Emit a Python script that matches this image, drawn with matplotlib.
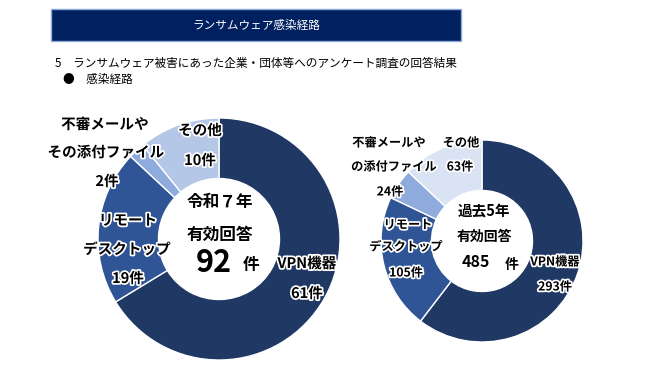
import matplotlib.pyplot as plt
import matplotlib.patches as mpatches
import matplotlib.patheffects as pe

plt.rcParams['font.family'] = ['Noto Sans CJK JP', 'DejaVu Sans']

# データ（感染経路）
categories = ["VPN機器", "リモートデスクトップ", "不審メールやその添付ファイル", "その他"]
r7_counts = [61, 19, 2, 10]
past5_counts = [293, 105, 24, 63]

r7_colors = ["#203864", "#2f5597", "#8faadc", "#b4c7e7"]
past5_colors = ["#203864", "#2f5597", "#8faadc", "#dae3f3"]

W, H = 660, 384
fig = plt.figure(figsize=(W / 100, H / 100), dpi=100)


def px(x, y):
    # 画像のピクセル座標（左上原点）→ figure座標
    return x / W, 1 - y / H


def put(x, y, s, size, bold=True, color="black", outline=True, ha="center"):
    fx, fy = px(x, y)
    t = fig.text(fx, fy, s, fontsize=size, fontweight="bold" if bold else "normal",
                 color=color, ha=ha, va="center")
    if outline:
        t.set_path_effects([pe.withStroke(linewidth=2.5, foreground="white")])
    return t


def donut(cx, cy, r, counts, colors):
    size = 2.1 * r
    ax = fig.add_axes([(cx - size / 2) / W, (H - cy - size / 2) / H, size / W, size / H])
    ax.pie(counts, colors=colors, startangle=90, counterclock=False, radius=1,
           wedgeprops=dict(width=0.5, edgecolor="white", linewidth=1))
    ax.set_xlim(-1.05, 1.05)
    ax.set_ylim(-1.05, 1.05)
    ax.set_aspect("equal")
    ax.axis("off")
    return ax


# タイトル帯
x0, y0 = px(51, 41)
fig.patches.append(mpatches.Rectangle((x0, y0), 410 / W, 32 / H, transform=fig.transFigure,
                                      facecolor="#002060", edgecolor="#8eaadb", linewidth=1))
put(256, 25, "ランサムウェア感染経路", 8.4, bold=False, color="white", outline=False)
put(55, 63, "5　ランサムウェア被害にあった企業・団体等へのアンケート調査の回答結果", 8.4,
    bold=False, outline=False, ha="left")
put(63, 80, "●　感染経路", 8.4, bold=False, outline=False, ha="left")

# 円グラフ
donut(219, 239, 121, r7_counts, r7_colors)
donut(482, 241, 101, past5_counts, past5_colors)

# 令和7年のラベル
put(307, 263, "VPN機器", 10.5)
put(307, 293, f"{r7_counts[0]}件", 10.5)
put(128, 220, "リモート", 10.5)
put(127, 249, "デスクトップ", 10.5)
put(128, 278, f"{r7_counts[1]}件", 10.5)
put(105, 124, "不審メールや", 10.5)
put(106, 152, "その添付ファイル", 10.5)
put(107, 181, f"{r7_counts[2]}件", 10.5)
put(200, 130, "その他", 10.5)
put(200, 160, f"{r7_counts[3]}件", 10.5)
put(220, 202, "令和７年", 12, outline=False)
put(220, 235, "有効回答", 12, outline=False)
put(214, 263, f"{sum(r7_counts)}", 22, outline=False)
put(251, 265, "件", 12, outline=False)

# 過去5年のラベル
put(555, 262, "VPN機器", 8.8)
put(555, 287, f"{past5_counts[0]}件", 8.8)
put(408, 225, "リモート", 8.8)
put(406, 247, "デスクトップ", 8.8)
put(406, 273, f"{past5_counts[1]}件", 8.8)
put(389, 143, "不審メールや", 8.8)
put(394, 167, "の添付ファイル", 8.8)
put(390, 192, f"{past5_counts[2]}件", 8.8)
put(461, 143, "その他", 8.8)
put(460, 167, f"{past5_counts[3]}件", 8.8)
put(484, 212, "過去5年", 10.5, outline=False)
put(484, 237, "有効回答", 10, outline=False)
put(476, 262, f"{sum(past5_counts)}", 11.5, outline=False)
put(512, 265, "件", 10, outline=False)

fig.savefig("out.png", dpi=100)
